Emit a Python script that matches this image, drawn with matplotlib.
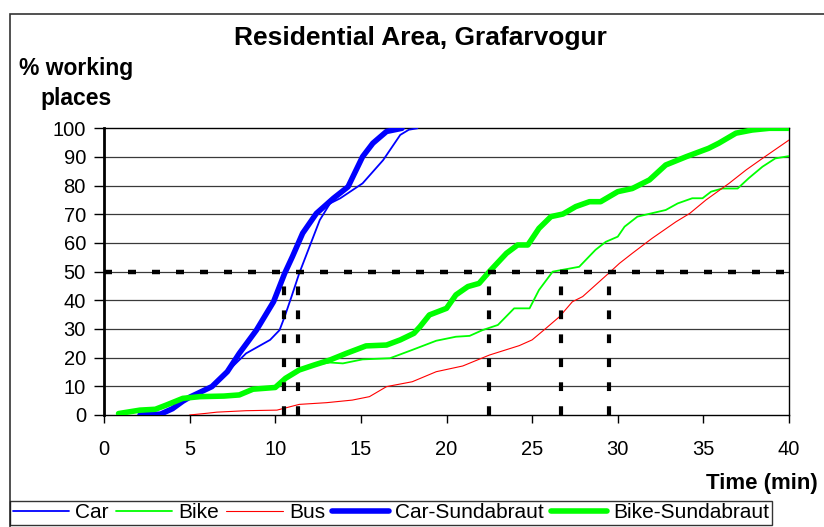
import matplotlib
matplotlib.use("Agg")
import matplotlib.pyplot as plt
from matplotlib.patches import Rectangle

# Cumulative share of working places reached within a travel time
car_t = [2.1, 3.3, 4.0, 4.6, 5.0, 6.3, 7.2, 8.3, 9.7, 10.25, 10.55, 10.95, 11.4, 12.0,
         12.6, 13.2, 13.8, 15.1, 16.3, 17.3, 17.8, 18.3]
car_p = [0, 0.3, 2.2, 4.8, 6.2, 9.9, 15.1, 21.5, 26.2, 29.6, 34.3, 41.3, 49.4, 58.7,
         68, 73.8, 75.6, 80.8, 88.9, 97.7, 99.5, 100]

bike_t = [0.85, 2.1, 3.0, 3.65, 4.6, 5.6, 7.0, 7.9, 8.7, 10.0, 10.6, 11.4, 12.3, 13.2,
          13.95, 15.1, 16.7, 18.0, 19.4, 20.55, 21.35, 22.1, 23.0, 23.95, 24.85, 25.4,
          26.2, 27.75, 28.7, 29.3, 30.0, 30.4, 31.15, 32.8, 33.5, 34.35, 34.95, 35.45,
          36.1, 37.0, 37.65, 38.45, 39.2, 40]
bike_p = [0.5, 1.7, 2.0, 3.5, 5.8, 6.4, 6.6, 7.0, 9.0, 9.6, 12.8, 15.7, 17.5, 18.3,
          18.0, 19.4, 19.8, 22.7, 25.9, 27.3, 27.6, 29.6, 31.4, 37.2, 37.2, 43.6,
          50, 51.7, 57.6, 60.4, 62.2, 65.7, 69.2, 71.5, 73.8, 75.6, 75.6, 77.9,
          79, 79, 82.6, 86.6, 89.5, 90.3]

bus_t = [5.0, 6.0, 6.6, 8.3, 10.1, 11.4, 13.0, 14.5, 15.5, 16.5, 18.0, 19.4, 20.95,
         22.5, 24.25, 25.0, 25.8, 26.6, 27.35, 27.95, 29.5, 30.1, 30.85, 32.0, 33.4,
         34.2, 35.15, 36.5, 37.5, 38.45, 39.15, 40]
bus_p = [0, 0.6, 1.0, 1.5, 1.7, 3.7, 4.3, 5.2, 6.4, 9.9, 11.6, 15.1, 17.1,
         20.9, 24.2, 26.2, 30.2, 34.3, 39.5, 41.3, 49.6, 52.9, 56.4, 61.6, 67.4,
         70.3, 75, 80.8, 85.5, 89.5, 92.4, 95.9]

car_s_t = [2.1, 3.3, 4.0, 4.6, 5.0, 6.3, 7.2, 7.9, 8.9, 9.9, 10.55, 11.0, 11.6, 12.4,
           13.4, 14.25, 15.1, 15.7, 16.5, 17.4]
car_s_p = [0, 0.3, 2.2, 4.8, 6.2, 9.9, 15.1, 21.5, 29.6, 39.5, 49.4, 55.2, 63.4, 70.3,
           75.6, 79.6, 90.1, 94.8, 98.9, 100]

bike_s_t = [0.85, 2.1, 3.0, 3.65, 4.6, 5.6, 7.0, 7.9, 8.7, 10.0, 10.6, 11.4, 12.3, 13.2,
            14.15, 15.3, 16.5, 17.3, 18.1, 18.45, 19.0, 20.0, 20.55, 21.25, 21.9, 22.5,
            23.5, 24.15, 24.75, 25.4, 26.1, 26.8, 27.55, 28.35, 29.0, 30.0, 30.85,
            31.85, 32.8, 34.0, 35.3, 35.9, 36.9, 37.85, 38.85, 40]
bike_s_p = [0.5, 1.7, 2.0, 3.5, 5.8, 6.4, 6.6, 7.0, 9.0, 9.6, 12.8, 15.7, 17.5, 19.2,
            21.5, 24.1, 24.4, 26.2, 28.5, 30.8, 34.9, 37.2, 41.9, 44.8, 45.9, 50,
            56.4, 59.3, 59.3, 65.1, 69.2, 70.1, 72.7, 74.4, 74.4, 77.9, 79,
            82, 87.2, 90.1, 93, 94.8, 98.3, 99.4, 100, 100]

# times where each curve reaches 50 %
half_times = [10.5, 11.33, 22.5, 26.67, 29.5]

labels = ['Car', 'Bike', 'Bus', 'Car-Sundabraut', 'Bike-Sundabraut']
x_ticks = [0, 5, 10, 15, 20, 25, 30, 35, 40]
y_ticks = [0, 10, 20, 30, 40, 50, 60, 70, 80, 90, 100]

plt.rcParams['font.family'] = ['Liberation Sans', 'DejaVu Sans']

fig = plt.figure(figsize=(8.24, 5.27), dpi=100)
ax = fig.add_axes([104/824, 1 - 415/527, 685/824, (415 - 128.3)/527])

# outer chart frame (runs off the right and bottom edges)
frame = Rectangle((10/824, -0.2), 1.3, 1 - 14/527 + 0.2, transform=fig.transFigure,
                  fill=False, edgecolor='#333333', linewidth=1.2, clip_on=False)
fig.patches.append(frame)

for y in y_ticks[1:-1]:
    ax.axhline(y, color='#3a3a3a', linewidth=0.9, zorder=1)

kw = dict(solid_capstyle='round', solid_joinstyle='round', zorder=3)
ax.plot(car_t, car_p, color='#0000FF', linewidth=1.3, label=labels[0], **kw)
ax.plot(bike_t, bike_p, color='#00FF00', linewidth=1.3, label=labels[1], **kw)
ax.plot(bus_t, bus_p, color='#FF0000', linewidth=0.8, label=labels[2], **kw)
ax.plot(car_s_t, car_s_p, color='#0000FF', linewidth=4, label=labels[3], **kw)
ax.plot(bike_s_t, bike_s_p, color='#00FF00', linewidth=4, label=labels[4], **kw)

# 50 % reference lines
ax.plot([0, 40], [50, 50], color='black', linewidth=3.2, dashes=(1.8, 3.6),
        solid_capstyle='butt', zorder=5)
for t in half_times:
    ax.plot([t, t], [0, 50], color='black', linewidth=3, dashes=(2.1, 3.65),
            zorder=5)

ax.set_xlim(0, 40)
ax.set_ylim(0, 100)
ax.set_xticks(x_ticks)
ax.set_yticks(y_ticks)
ax.tick_params(axis='y', direction='out', length=7, width=1, pad=6, labelsize=14.5)
ax.tick_params(axis='x', direction='out', length=6, width=1, pad=12, labelsize=14.5)
for side in ['top', 'right', 'bottom']:
    ax.spines[side].set_linewidth(1)
ax.spines['left'].set_linewidth(2)

fig.text(420/824, 1 - 38/527, 'Residential Area, Grafarvogur', ha='center',
         va='center', fontsize=19, fontweight='bold')
fig.text(76/824, 1 - 68/527, '% working', ha='center', va='center', fontsize=16.5,
         fontweight='bold')
fig.text(76/824, 1 - 98/527, 'places', ha='center', va='center', fontsize=16.5,
         fontweight='bold')
fig.text(818/824, 1 - 484/527, 'Time (min)', ha='right', va='center', fontsize=16,
         fontweight='bold')

leg = fig.legend(loc='upper left', bbox_to_anchor=(10/824, 1 - 501/527), ncol=5,
                 frameon=True, fancybox=False, borderaxespad=0, borderpad=0.12,
                 handlelength=2.7, handletextpad=0.3, columnspacing=0.35,
                 prop={'size': 15})
leg.get_frame().set_edgecolor('black')
leg.get_frame().set_linewidth(1)

fig.savefig('out.png', dpi=100)
